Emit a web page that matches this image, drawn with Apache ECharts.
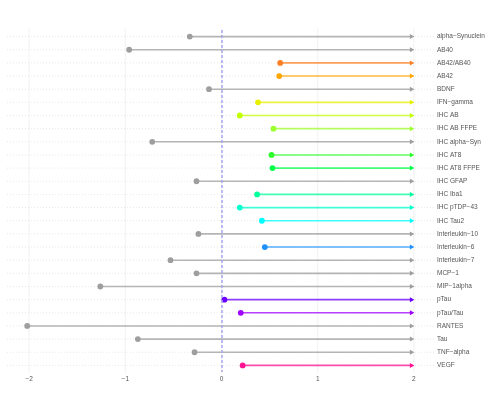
<!DOCTYPE html>
<html>
<head>
<meta charset="utf-8">
<script src="https://cdn.jsdelivr.net/npm/echarts@6/dist/echarts.min.js"></script>
<style>
  html, body { margin: 0; padding: 0; background: #fff; }
  #chart { width: 498px; height: 399px; }
</style>
</head>
<body>
<div id="chart"></div>
<script>
const categories = [
  'alpha\u2212Synuclein', 'AB40', 'AB42/AB40', 'AB42', 'BDNF', 'IFN\u2212gamma',
  'IHC AB', 'IHC AB FFPE', 'IHC alpha\u2212Syn', 'IHC AT8', 'IHC AT8 FFPE',
  'IHC GFAP', 'IHC Iba1', 'IHC pTDP\u221243', 'IHC Tau2', 'Interleukin\u221210',
  'Interleukin\u22126', 'Interleukin\u22127', 'MCP\u22121', 'MIP\u22121alpha',
  'pTau', 'pTau/Tau', 'RANTES', 'Tau', 'TNF\u2212alpha', 'VEGF'
];
const startValues = [
  -0.33, -0.96, 0.61, 0.60, -0.13, 0.38,
  0.19, 0.54, -0.72, 0.52, 0.53,
  -0.26, 0.37, 0.19, 0.42, -0.24,
  0.45, -0.53, -0.26, -1.26,
  0.03, 0.20, -2.02, -0.87, -0.28, 0.22
];
const endValue = 2;
const grey = '#9e9e9e';
const colors = [
  grey, grey, '#ff7f24', '#ffa500', grey, '#e8f000',
  '#c2ff00', '#9cff2e', grey, '#2cff2c', '#00ff48',
  grey, '#00ff9c', '#00ffcc', '#00ffff', grey,
  '#1e90ff', grey, grey, grey,
  '#6a00ff', '#a000ff', grey, grey, grey, '#ff1493'
];
const xTicks = [-2, -1, 0, 1, 2];

const chart = echarts.init(document.getElementById('chart'));

const seriesData = categories.map((c, i) => [startValues[i], i, endValue]);

chart.setOption({
  animation: false,
  backgroundColor: '#fff',
  grid: { left: 7, right: 62, top: 30, bottom: 27, containLabel: false },
  xAxis: {
    type: 'value',
    min: -2.23,
    max: 2.23,
    axisLine: { show: false },
    axisTick: { show: false },
    splitLine: { show: false },
    axisLabel: { show: false }
  },
  yAxis: {
    type: 'category',
    data: categories,
    inverse: true,
    position: 'right',
    axisLine: { show: false },
    axisTick: { show: false },
    axisLabel: {
      margin: 1,
      align: 'left',
      fontSize: 6.5,
      color: '#555',
      fontFamily: 'Liberation Sans, Arial, sans-serif'
    },
    splitLine: { show: false }
  },
  series: [
    {
      // vertical grid lines and x tick labels
      type: 'custom',
      silent: true,
      data: xTicks.map(t => [t]),
      renderItem: (params, api) => {
        const x = api.coord([api.value(0), 0])[0];
        const top = params.coordSys.y - 1.5;
        const bottom = params.coordSys.y + params.coordSys.height + 1;
        return {
          type: 'group',
          children: [
            { type: 'line', shape: { x1: x, y1: top, x2: x, y2: bottom },
              style: { stroke: '#ebebeb', lineWidth: 0.7 } },
            { type: 'text', x: x, y: bottom + 6,
              style: { text: String(api.value(0)).replace('-', '\u2212'), fill: '#555', fontSize: 6.5,
                align: 'center', verticalAlign: 'middle',
                fontFamily: 'Liberation Sans, Arial, sans-serif' } }
          ]
        };
      }
    },
    {
      // dotted horizontal guides for every category
      type: 'custom',
      silent: true,
      data: categories.map((c, i) => [i]),
      renderItem: (params, api) => {
        const y = api.coord([0, api.value(0)])[1];
        const cs = params.coordSys;
        return {
          type: 'line',
          shape: { x1: cs.x, y1: y, x2: cs.x + cs.width, y2: y },
          style: { stroke: '#d9d9d9', lineWidth: 0.6, lineDash: [1, 2] }
        };
      }
    },
    {
      type: 'custom',
      data: seriesData,
      markLine: {
        silent: true,
        symbol: 'none',
        label: { show: false },
        lineStyle: { color: '#a6a6f5', type: [3, 2], width: 1.5 },
        data: [{ xAxis: 0 }]
      },
      renderItem: (params, api) => {
        const i = params.dataIndex;
        const p0 = api.coord([api.value(0), api.value(1)]);
        const p1 = api.coord([api.value(2), api.value(1)]);
        const c = colors[i];
        return {
          type: 'group',
          children: [
            { type: 'line', shape: { x1: p0[0], y1: p0[1], x2: p1[0] - 3, y2: p1[1] },
              style: { stroke: c, lineWidth: 1.6, opacity: 0.75 } },
            { type: 'polygon',
              shape: { points: [[p1[0] - 4, p1[1] - 2.5], [p1[0] + 0.5, p1[1]], [p1[0] - 4, p1[1] + 2.5]] },
              style: { fill: c } },
            { type: 'circle', shape: { cx: p0[0], cy: p0[1], r: 2.9 },
              style: { fill: c } }
          ]
        };
      }
    }
  ]
});
</script>
</body>
</html>
